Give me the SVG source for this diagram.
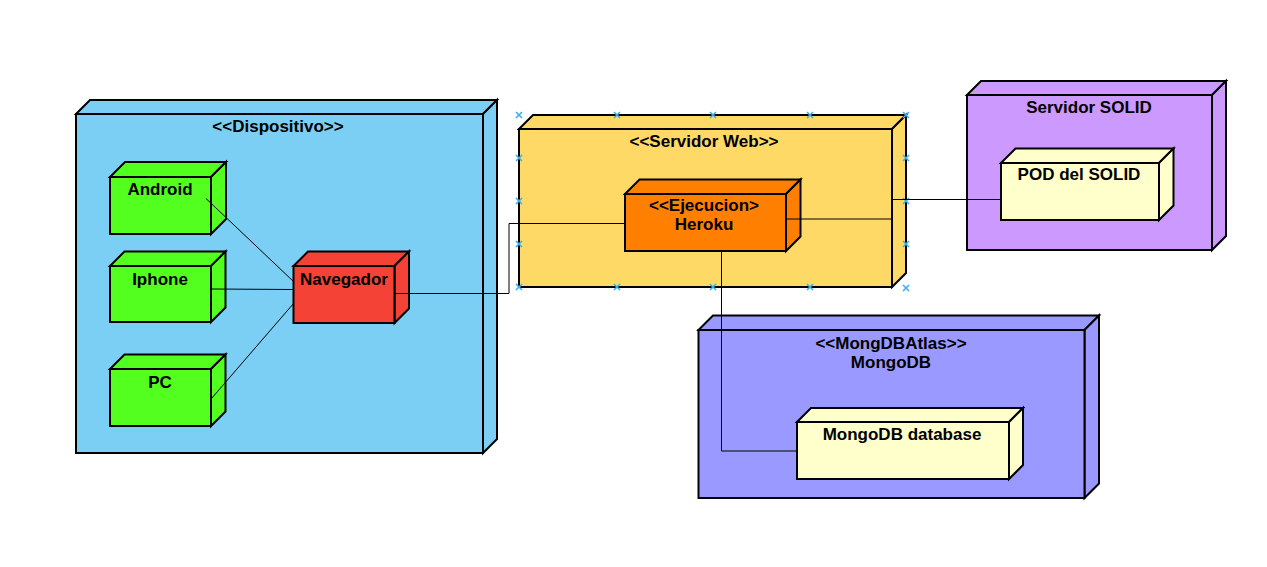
<svg xmlns="http://www.w3.org/2000/svg" width="1267" height="567" viewBox="0 0 1267 567">
<style>
.n{stroke:#000;stroke-width:2;stroke-linejoin:miter}
.t{font-family:"Liberation Sans",Arial,sans-serif;font-weight:bold;font-size:17px;fill:#000}
.c{fill:none;stroke:#000;stroke-width:1}
.m{stroke:#3bb0ea;stroke-width:1.6;fill:none}
.blue{fill:#7ccff4}.green{fill:#53ff1f}.red{fill:#f54236}.yel{fill:#fed966}.ora{fill:#ff8000}.pur{fill:#cc99ff}.pale{fill:#ffffcc}.mongo{fill:#9999ff}
</style>
<defs>
<path id="x" d="M-3,-3L3,3M-3,3L3,-3"/>
</defs>
<rect width="1267" height="567" fill="#fff"/>

<g id="dispositivo">
<polygon class="n blue" points="76,114 90,100 497,100 483,114"/>
<polygon class="n blue" points="483,114 497,100 497,439 483,453"/>
<rect class="n blue" x="76" y="114" width="407" height="339"/>
<text class="t" x="278" y="132" text-anchor="middle">&lt;&lt;Dispositivo&gt;&gt;</text>
</g>

<g id="android">
<polygon class="n green" points="110,177 125,162 226,162 211,177"/>
<polygon class="n green" points="211,177 226,162 226,219 211,234"/>
<rect class="n green" x="110" y="177" width="101" height="57"/>
<text class="t" x="160" y="195" text-anchor="middle">Android</text>
</g>

<g id="iphone">
<polygon class="n green" points="110,266 124.5,251.5 225.5,251.5 211,266"/>
<polygon class="n green" points="211,266 225.5,251.5 225.5,307.5 211,322"/>
<rect class="n green" x="110" y="266" width="101" height="56"/>
<text class="t" x="160" y="284.5" text-anchor="middle">Iphone</text>
</g>

<g id="pc">
<polygon class="n green" points="110,369 124.5,354.5 225.5,354.5 211,369"/>
<polygon class="n green" points="211,369 225.5,354.5 225.5,411.5 211,426"/>
<rect class="n green" x="110" y="369" width="101" height="57"/>
<text class="t" x="160" y="387.5" text-anchor="middle">PC</text>
</g>

<g id="navegador">
<polygon class="n red" points="293.5,266 308,251.5 409,251.5 394.5,266"/>
<polygon class="n red" points="394.5,266 409,251.5 409,308.5 394.5,323"/>
<rect class="n red" x="293.5" y="266" width="101" height="57"/>
<text class="t" x="344" y="284.5" text-anchor="middle">Navegador</text>
</g>

<g id="servidor-web">
<polygon class="n yel" points="519,129 533,115 906,115 892,129"/>
<polygon class="n yel" points="892,129 906,115 906,273 892,287"/>
<rect class="n yel" x="519" y="129" width="373" height="158"/>
<text class="t" x="704" y="147" text-anchor="middle">&lt;&lt;Servidor Web&gt;&gt;</text>
<g class="m">
<use href="#x" x="519" y="115"/><use href="#x" x="617" y="115"/><use href="#x" x="713" y="115"/><use href="#x" x="810" y="115"/><use href="#x" x="906" y="115"/>
<use href="#x" x="519" y="158"/><use href="#x" x="519" y="201"/><use href="#x" x="519" y="244"/>
<use href="#x" x="906" y="158"/><use href="#x" x="906" y="201"/><use href="#x" x="906" y="244"/>
<use href="#x" x="519" y="287"/><use href="#x" x="617" y="287"/><use href="#x" x="713" y="287"/><use href="#x" x="810" y="287"/><use href="#x" x="906" y="288"/>
</g>
</g>

<g id="heroku">
<polygon class="n ora" points="625,194 639.5,179.5 800.5,179.5 786,194"/>
<polygon class="n ora" points="786,194 800.5,179.5 800.5,236.5 786,251"/>
<rect class="n ora" x="625" y="194" width="161" height="57"/>
<text class="t" x="704" y="211" text-anchor="middle">&lt;&lt;Ejecucion&gt;</text>
<text class="t" x="704" y="230" text-anchor="middle">Heroku</text>
</g>

<g id="servidor-solid">
<polygon class="n pur" points="967,95 981,81 1226,81 1212,95"/>
<polygon class="n pur" points="1212,95 1226,81 1226,236 1212,250"/>
<rect class="n pur" x="967" y="95" width="245" height="155"/>
<text class="t" x="1089" y="113" text-anchor="middle">Servidor SOLID</text>
</g>

<g id="pod">
<polygon class="n pale" points="1001,163 1015.5,148.5 1173.5,148.5 1159,163"/>
<polygon class="n pale" points="1159,163 1173.5,148.5 1173.5,205.5 1159,220"/>
<rect class="n pale" x="1001" y="163" width="158" height="57"/>
<text class="t" x="1079" y="180" text-anchor="middle">POD del SOLID</text>
</g>

<g id="mongodb">
<polygon class="n mongo" points="698.5,330 713,315.5 1099,315.5 1084.5,330"/>
<polygon class="n mongo" points="1084.5,330 1099,315.5 1099,483.5 1084.5,498"/>
<rect class="n mongo" x="698.5" y="330" width="386" height="168"/>
<text class="t" x="891" y="348.5" text-anchor="middle">&lt;&lt;MongDBAtlas&gt;&gt;</text>
<text class="t" x="891" y="368" text-anchor="middle">MongoDB</text>
</g>

<g id="mongodb-database">
<polygon class="n pale" points="797,422 811,408 1023,408 1009,422"/>
<polygon class="n pale" points="1009,422 1023,408 1023,465 1009,479"/>
<rect class="n pale" x="797" y="422" width="212" height="57"/>
<text class="t" x="902" y="440" text-anchor="middle">MongoDB database</text>
</g>

<g id="connectors">
<path class="c" d="M206,198.5L293.5,281.5"/>
<path class="c" d="M211.5,289L293.5,289.5"/>
<path class="c" d="M211.5,398.5L293.5,303.5"/>
<path class="c" d="M394.5,293.5H509V223.5H624"/>
<path class="c" d="M786,219H892.5V199.5H1000"/>
<path class="c" d="M721.5,251V451H797"/>
</g>
</svg>
